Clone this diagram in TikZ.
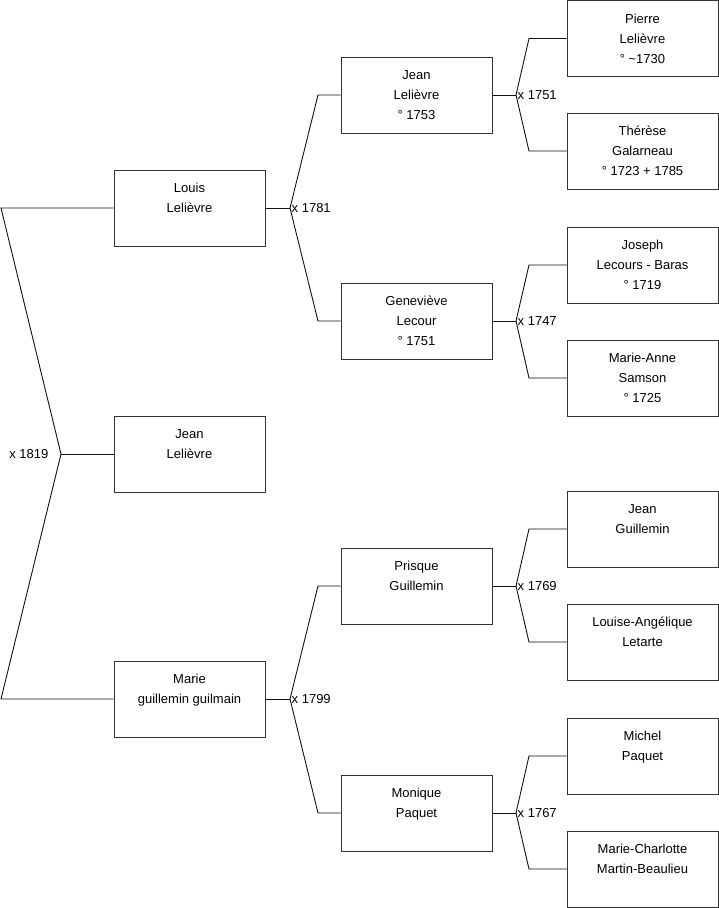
\documentclass[tikz,border=0pt]{standalone}
\usepackage{fontspec}
\setmainfont{Liberation Sans}
\usepackage{tikz}
\usetikzlibrary{positioning}
\definecolor{TreeLine}{HTML}{111111}
\definecolor{TreeBox}{HTML}{333333}

\begin{document}
\begin{tikzpicture}[
  x=1pt,y=-1pt,
  every node/.style={font=\fontsize{13}{20}\selectfont},
  person/.style={draw=TreeBox,line width=1pt,fill=white,align=center,
    minimum width=151pt,minimum height=76pt,inner sep=0pt},
  link/.style={draw=TreeLine,line width=0.9pt},
  wed/.style={inner sep=1.5pt,text=black}
]
\useasboundingbox (0,0) rectangle (719,908);

% generation 1
\node[person] (louis) at (189.5,208) {Louis\\Lelièvre\\\mbox{}};
\node[person] (jean) at (189.5,454) {Jean\\Lelièvre\\\mbox{}};
\node[person] (marie) at (189.5,699) {Marie\\guillemin guilmain\\\mbox{}};

% generation 2
\node[person] (jeanL) at (416.5,95) {Jean\\Lelièvre\\° 1753};
\node[person] (genev) at (416.5,321) {Geneviève\\Lecour\\° 1751};
\node[person] (prisque) at (416.5,586) {Prisque\\Guillemin\\\mbox{}};
\node[person] (monique) at (416.5,813) {Monique\\Paquet\\\mbox{}};

% generation 3
\node[person] (pierre) at (642.5,38.5) {Pierre\\Lelièvre\\° \textasciitilde1730};
\node[person] (therese) at (642.5,151) {Thérèse\\Galarneau\\° 1723 + 1785};
\node[person] (joseph) at (642.5,265) {Joseph\\Lecours - Baras\\° 1719};
\node[person] (marieA) at (642.5,378) {Marie-Anne\\Samson\\° 1725};
\node[person] (jeanG) at (642.5,529) {Jean\\Guillemin\\\mbox{}};
\node[person] (louise) at (642.5,642) {Louise-Angélique\\Letarte\\\mbox{}};
\node[person] (michel) at (642.5,756) {Michel\\Paquet\\\mbox{}};
\node[person] (marieC) at (642.5,869) {Marie-Charlotte\\Martin-Beaulieu\\\mbox{}};

% fork points
\coordinate (k0a) at (1,208);
\coordinate (v0) at (61,454);
\coordinate (k0b) at (1,699);
\coordinate (v1) at (290,208);
\coordinate (b1a) at (318,95);
\coordinate (b1b) at (318,321);
\coordinate (v2) at (290,699);
\coordinate (b2a) at (318,586);
\coordinate (b2b) at (318,813);
\coordinate (v3) at (516,95);
\coordinate (b3a) at (529,38.5);
\coordinate (b3b) at (529,151);
\coordinate (v4) at (516,321);
\coordinate (b4a) at (529,265);
\coordinate (b4b) at (529,378);
\coordinate (v5) at (516,586);
\coordinate (b5a) at (529,529);
\coordinate (b5b) at (529,642);
\coordinate (v6) at (516,813);
\coordinate (b6a) at (529,756);
\coordinate (b6b) at (529,869);

% marriages
\node[wed,left=11pt of v0] (w1819) {x 1819};
\node[wed,right=0pt of v1] (w1781) {x 1781};
\node[wed,right=0pt of v2] (w1799) {x 1799};
\node[wed,right=0pt of v3] (w1751) {x 1751};
\node[wed,right=0pt of v4] (w1747) {x 1747};
\node[wed,right=0pt of v5] (w1769) {x 1769};
\node[wed,right=0pt of v6] (w1767) {x 1767};

\draw[link] (louis) -- (k0a) -- (v0) -- (k0b) -- (marie);
\draw[link] (v0) -- (jean);

\draw[link] (louis) -- (v1);
\draw[link] (jeanL) -- (b1a) -- (v1) -- (b1b) -- (genev);
\draw[link] (marie) -- (v2);
\draw[link] (prisque) -- (b2a) -- (v2) -- (b2b) -- (monique);

\draw[link] (jeanL) -- (v3);
\draw[link] (pierre) -- (b3a) -- (v3) -- (b3b) -- (therese);
\draw[link] (genev) -- (v4);
\draw[link] (joseph) -- (b4a) -- (v4) -- (b4b) -- (marieA);
\draw[link] (prisque) -- (v5);
\draw[link] (jeanG) -- (b5a) -- (v5) -- (b5b) -- (louise);
\draw[link] (monique) -- (v6);
\draw[link] (michel) -- (b6a) -- (v6) -- (b6b) -- (marieC);
\end{tikzpicture}
\end{document}
